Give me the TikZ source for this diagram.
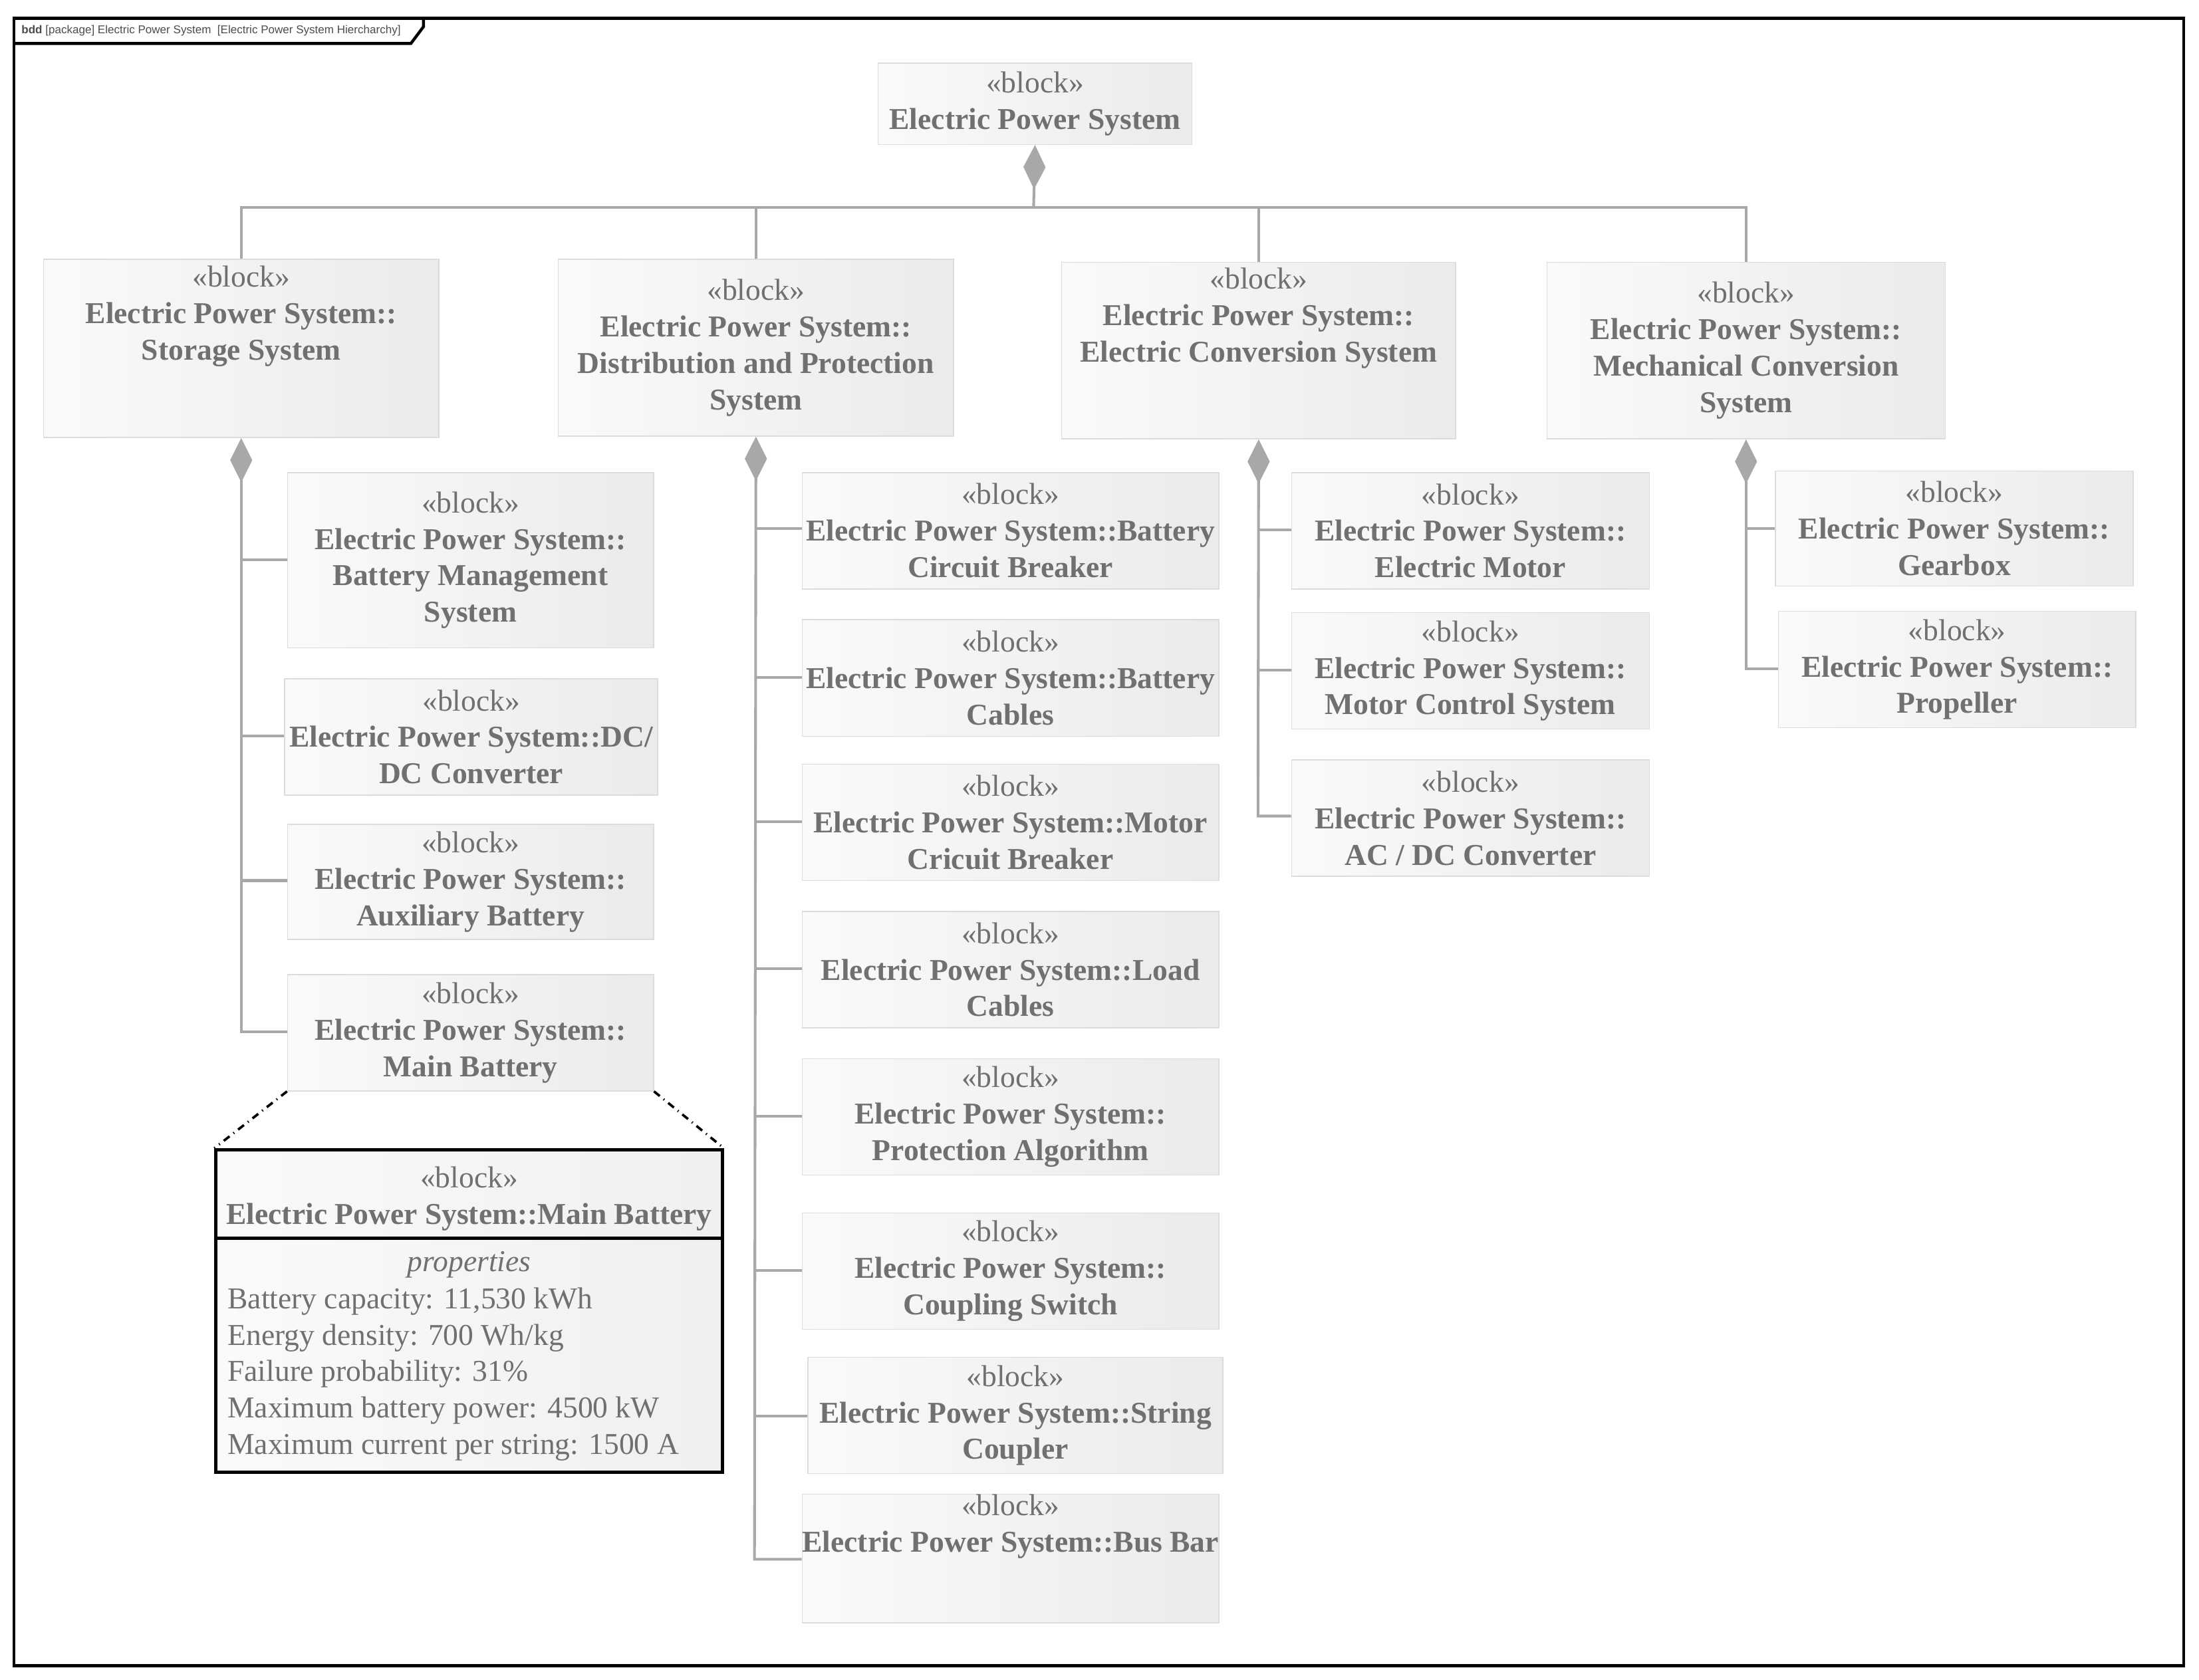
\documentclass[tikz,border=0pt]{standalone}
\usepackage{fontspec}
\setmainfont{Liberation Serif}
\newfontfamily\tabfont{Liberation Sans}
\usetikzlibrary{arrows.meta}
\definecolor{txt}{HTML}{707070}
\definecolor{ln}{HTML}{A8A8A8}
\tikzset{
 blk/.style={draw=ln!40, left color=white!96!gray, right color=gray!16, text=txt, align=center, inner sep=0pt, font=\fontsize{12.3}{14.8}\selectfont},
 conn/.style={draw=ln, line width=1.1pt},
 dstart/.style={conn, {Diamond[length=18pt,width=9pt,fill=ln]}-}
}
\newcommand\blk[6]{\node[blk, minimum width={(#4-#2)*0.02cm}, minimum height={(#5-#3)*0.02cm}] (#1) at ({(#2+#4)/2},{(#3+#5)/2}) {#6};}
\begin{document}
\begin{tikzpicture}[x=0.02cm,y=-0.02cm]
\useasboundingbox (0,0) rectangle (1568,1198);
% frame
\draw[line width=1.2pt] (10,13) rectangle (1557,1188);
\draw[line width=1.2pt] (10,31) -- (293,31) -- (302,19) -- (302,13);
\node[anchor=west, inner sep=0pt, text=black!70, font=\tabfont\fontsize{4.6}{5}\selectfont] (tab) at (15,22) {\textbf{bdd} [package] Electric Power System \ [Electric Power System Hiercharchy]};
% blocks
\blk{top}{626}{45}{850}{103}{«block»\\\textbf{Electric Power System}}
\blk{st}{31}{185}{313}{312}{«block»\\\textbf{Electric Power System::}\\\textbf{Storage System}\\[14pt]}
\blk{dp}{398}{185}{680}{311}{«block»\\\textbf{Electric Power System::}\\\textbf{Distribution and Protection}\\\textbf{System}}
\blk{ec}{757}{187}{1038}{313}{«block»\\\textbf{Electric Power System::}\\\textbf{Electric Conversion System}\\[14pt]}
\blk{mc}{1103}{187}{1387}{313}{«block»\\\textbf{Electric Power System::}\\\textbf{Mechanical Conversion}\\\textbf{System}}
% storage children
\blk{bms}{205}{337}{466}{462}{«block»\\\textbf{Electric Power System::}\\\textbf{Battery Management}\\\textbf{System}}
\blk{dcdc}{203}{484}{469}{567}{«block»\\\textbf{Electric Power System::DC/}\\\textbf{DC Converter}}
\blk{aux}{205}{588}{466}{670}{«block»\\\textbf{Electric Power System::}\\\textbf{Auxiliary Battery}}
\blk{mb}{205}{695}{466}{778}{«block»\\\textbf{Electric Power System::}\\\textbf{Main Battery}}
% distribution children
\blk{bcb}{572}{337}{869}{420}{«block»\\\textbf{Electric Power System::Battery}\\\textbf{Circuit Breaker}}
\blk{bc}{572}{442}{869}{525}{«block»\\\textbf{Electric Power System::Battery}\\\textbf{Cables}}
\blk{mcb}{572}{545}{869}{628}{«block»\\\textbf{Electric Power System::Motor}\\\textbf{Cricuit Breaker}}
\blk{lc}{572}{650}{869}{733}{«block»\\\textbf{Electric Power System::Load}\\\textbf{Cables}}
\blk{pa}{572}{755}{869}{838}{«block»\\\textbf{Electric Power System::}\\\textbf{Protection Algorithm}}
\blk{cs}{572}{865}{869}{948}{«block»\\\textbf{Electric Power System::}\\\textbf{Coupling Switch}}
\blk{sc}{576}{968}{872}{1051}{«block»\\\textbf{Electric Power System::String}\\\textbf{Coupler}}
\blk{bb}{572}{1070}{869}{1153}{«block»\\\textbf{Electric Power System::Bus Bar}\\[14pt]}
% electric conversion children
\blk{em}{921}{337}{1176}{420}{«block»\\\textbf{Electric Power System::}\\\textbf{Electric Motor}}
\blk{mcs}{921}{437}{1176}{520}{«block»\\\textbf{Electric Power System::}\\\textbf{Motor Control System}}
\blk{acdc}{921}{542}{1176}{625}{«block»\\\textbf{Electric Power System::}\\\textbf{AC / DC Converter}}
% mechanical children
\blk{gb}{1266}{336}{1521}{418}{«block»\\\textbf{Electric Power System::}\\\textbf{Gearbox}}
\blk{pr}{1268}{436}{1523}{519}{«block»\\\textbf{Electric Power System::}\\\textbf{Propeller}}
% top connectors
\coordinate (bus) at (737,148);
\draw[dstart] (top.south) -- (bus);
\draw[conn] (st.north) -- (st.north|-bus) -- (mc.north|-bus) -- (mc.north);
\draw[conn] (dp.north|-bus) -- (dp.north);
\draw[conn] (ec.north|-bus) -- (ec.north);
% storage tree
\coordinate (t1) at (172,736);
\draw[dstart] (st.south) -- (t1) -- (mb.west|-t1);
\foreach \n/\y in {bms/399,dcdc/525,aux/628}{\draw[conn] (172,\y) -- (\n.west|-{(0,\y)});}
% distribution tree
\coordinate (t2) at (538,1112);
\draw[dstart] (dp.south) -- (t2) -- (bb.west|-t2);
\foreach \n/\y in {bcb/377,bc/483,mcb/586,lc/691,pa/796,cs/906,sc/1010}{\draw[conn] (538,\y) -- (\n.west|-{(0,\y)});}
% electric conversion tree
\coordinate (t3) at (897,582);
\draw[dstart] (ec.south) -- (t3) -- (acdc.west|-t3);
\foreach \n/\y in {em/378,mcs/478}{\draw[conn] (897,\y) -- (\n.west|-{(0,\y)});}
% mechanical tree
\coordinate (t4) at (1245,477);
\draw[dstart] (mc.south) -- (t4) -- (pr.west|-t4);
\draw[conn] (1245,377) -- (gb.west|-{(0,377)});
% detail box
\node[draw=black, line width=1.3pt, left color=white!96!gray, right color=gray!12, minimum width={361*0.02cm}, minimum height={230*0.02cm}, inner sep=0pt] (det) at (334.5,935) {};
\draw[line width=1.3pt] (154,883) -- (515,883);
\draw[dash dot, line width=1pt] (mb.south west) -- (det.north west);
\draw[dash dot, line width=1pt] (mb.south east) -- (det.north east);
\node[text=txt, align=center, font=\fontsize{12.3}{14.8}\selectfont] (dh) at (334.5,855) {«block»\\\textbf{Electric Power System::Main Battery}};
\node[text=txt, font=\fontsize{12.3}{14.8}\selectfont\itshape] (pp) at (334.5,902) {properties};
\node[text=txt, anchor=north west, align=left, inner sep=0pt, font=\fontsize{12.3}{14.74}\selectfont] (props) at (162,918) {Battery capacity: 11,530 kWh\\Energy density: 700 Wh/kg\\Failure probability: 31\%\\Maximum battery power: 4500 kW\\Maximum current per string: 1500 A};
\end{tikzpicture}
\end{document}
